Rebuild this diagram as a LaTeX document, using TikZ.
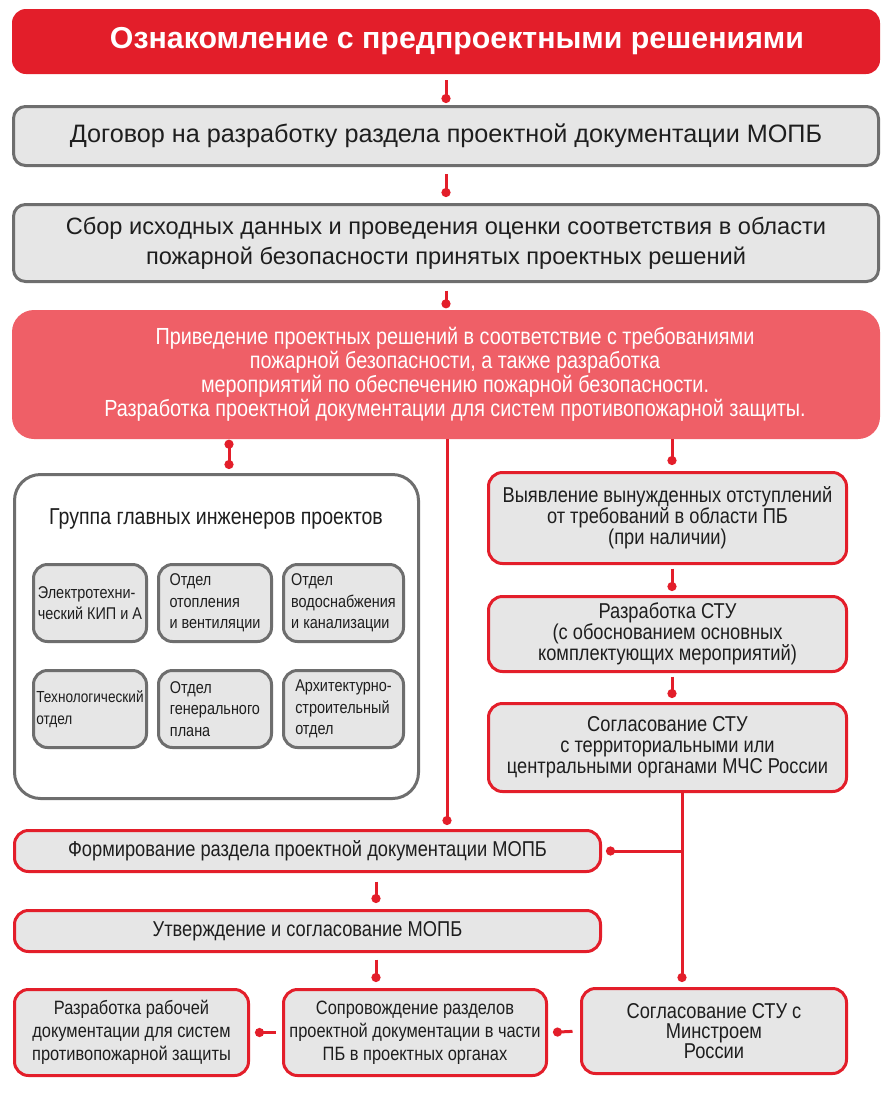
\documentclass[tikz,border=0pt]{standalone}
\usepackage{fontspec}
\setmainfont{Liberation Sans}
\newfontfamily\narrowfont[FakeStretch=0.85]{Liberation Sans}
\usetikzlibrary{arrows.meta}
\definecolor{cred}{HTML}{E31E2A}
\definecolor{csalmon}{HTML}{EF5F67}
\definecolor{cgray}{HTML}{E6E6E6}
\definecolor{cborder}{HTML}{6E6E6E}
\definecolor{ctext}{HTML}{1E1E1E}
\begin{document}
\begin{tikzpicture}[x=1pt,y=-1pt,
  gbox/.style={draw=cborder, fill=cgray, line width=3pt, rounded corners=12pt, inner sep=0pt, align=center, text=ctext},
  rbox/.style={draw=cred, fill=cgray, line width=3pt, rounded corners=14pt, inner sep=0pt, align=center, text=ctext},
  sbox/.style={draw=cborder, fill=cgray, line width=3pt, rounded corners=14pt, inner sep=0pt, align=left, text=ctext,
    minimum height=77pt, font=\narrowfont\fontsize{17}{21.5}\selectfont},
  link/.style={draw=cred, line width=3pt},
  dotend/.style={-{Circle[length=9pt,width=9pt]}},
  dotboth/.style={{Circle[length=9pt,width=9pt]}-{Circle[length=9pt,width=9pt]}},
  rtext/.style={font=\narrowfont\fontsize{21.5}{21}\selectfont},
  btext/.style={font=\narrowfont\fontsize{19.3}{23}\selectfont}
]
\useasboundingbox (0,0) rectangle (891,1120);

% top chain
\node[fill=cred, rounded corners=14pt, minimum width=868pt, minimum height=65pt, inner sep=0pt,
      text=white, font=\bfseries\fontsize{30.3}{34}\selectfont] (t) at (446,41.5)
      {\hspace*{22pt}Ознакомление с предпроектными решениями};
\node[gbox, minimum width=865pt, minimum height=59pt, font=\fontsize{25.2}{29}\selectfont] (dog) at (446,136)
      {Договор на разработку раздела проектной документации МОПБ};
\node[gbox, minimum width=865pt, minimum height=77pt, font=\fontsize{23.6}{30}\selectfont] (sbor) at (446,243)
      {Сбор исходных данных и проведения оценки соответствия в области\\
       пожарной безопасности принятых проектных решений};
\node[fill=csalmon, rounded corners=22pt, minimum width=868pt, minimum height=129pt, inner sep=0pt, align=center,
      text=white, font=\narrowfont\fontsize{23.3}{24}\selectfont] (priv) at (446,374.5)
      {\hspace*{18pt}Приведение проектных решений в соответствие с требованиями\\
       \hspace*{18pt}пожарной безопасности, а также разработка\\
       \hspace*{18pt}мероприятий по обеспечению пожарной безопасности.\\
       \hspace*{18pt}Разработка проектной документации для систем противопожарной защиты.};

% group
\node[draw=cborder, fill=white, line width=3pt, rounded corners=26pt, minimum width=404pt, minimum height=324pt] (grp) at (216.5,636.5) {};
\node[text=ctext, font=\narrowfont\fontsize{23}{26}\selectfont] (gtitle) at (216,519) {Группа главных инженеров проектов};
\node[sbox, minimum width=113pt] (e1) at (90,603) {Электротехни-\\ческий КИП и А};
\node[sbox, minimum width=113pt] (e2) at (215,603) {Отдел\\отопления\\и вентиляции};
\node[sbox, minimum width=120pt] (e3) at (343.5,603) {Отдел\\водоснабжения\\и канализации};
\node[sbox, minimum width=113pt, font=\narrowfont\fontsize{16}{21.5}\selectfont] (e4) at (90,709) {Технологический\\отдел};
\node[sbox, minimum width=113pt] (e5) at (215,709) {Отдел\\генерального\\плана};
\node[sbox, minimum width=120pt] (e6) at (343.5,709) {Архитектурно-\\строительный\\отдел};

% right column
\node[rbox, rtext, minimum width=358pt, minimum height=91pt] (r1) at (667.5,518)
      {Выявление вынужденных отступлений\\от требований в области ПБ\\(при наличии)};
\node[rbox, rtext, minimum width=358pt, minimum height=75pt] (r2) at (667.5,634)
      {Разработка СТУ\\(с обоснованием основных\\комплектующих мероприятий)};
\node[rbox, rtext, minimum width=358pt, minimum height=88pt] (r3) at (667.5,747.5)
      {Согласование СТУ\\с территориальными или\\центральными органами МЧС России};

% lower part
\node[rbox, rtext, minimum width=586pt, minimum height=41pt] (form) at (307.5,851)
      {Формирование раздела проектной документации МОПБ};
\node[rbox, rtext, minimum width=586pt, minimum height=41pt] (utv) at (307.5,931)
      {Утверждение и согласование МОПБ};
\node[rbox, btext, minimum width=234pt, minimum height=86pt] (b1) at (131.5,1032.5)
      {Разработка рабочей\\документации для систем\\противопожарной защиты};
\node[rbox, btext, minimum width=263pt, minimum height=86pt] (b2) at (415,1032.5)
      {Сопровождение разделов\\проектной документации в части\\ПБ в проектных органах};
\node[rbox, font=\narrowfont\fontsize{21.5}{20}\selectfont, minimum width=265pt, minimum height=85pt] (b3) at (714,1031)
      {Согласование СТУ с\\Минстроем\\России};

% helper coordinates
\coordinate (gx) at (229,0);
\coordinate (rx) at (672,0);
\coordinate (vx) at (447,0);
\coordinate (bx) at (682,0);
\coordinate (fx) at (376,0);

% connectors
\draw[link, dotend, shorten <=6pt, shorten >=2pt] (t.south) -- (dog.north);
\draw[link, dotend, shorten <=7pt, shorten >=6pt] (dog.south) -- (sbor.north);
\draw[link, dotend, shorten <=7.5pt, shorten >=1.5pt] (sbor.south) -- (priv.north);
\draw[link, dotboth, shorten <=0.5pt, shorten >=4pt] (priv.south -| gx) -- (grp.north -| gx);
\draw[link, dotend, shorten >=6pt] (priv.south -| rx) -- (r1.north -| rx);
\draw[link, dotend, shorten >=4pt] (priv.south -| vx) -- (form.north -| vx);
\draw[link, dotend, shorten <=3.5pt, shorten >=4pt] (r1.south -| rx) -- (r2.north -| rx);
\draw[link, dotend, shorten <=3.5pt, shorten >=4pt] (r2.south -| rx) -- (r3.north -| rx);
\draw[link, dotend, shorten >=5pt] (r3.south -| bx) -- (b3.north -| bx);
\draw[link, dotend, shorten >=4pt] (bx |- form.east) -- (form.east);
\draw[link, dotend, shorten <=8.5pt, shorten >=6pt] (form.south -| fx) -- (utv.north -| fx);
\draw[link, dotend, shorten <=6.5pt, shorten >=6pt] (utv.south -| fx) -- (b2.north -| fx);
\draw[link, dotend, shorten <=7.5pt, shorten >=5pt] (b3.west) -- (b2.east);
\draw[link, dotend, shorten <=6.5pt, shorten >=5pt] (b2.west) -- (b1.east);
\end{tikzpicture}
\end{document}
